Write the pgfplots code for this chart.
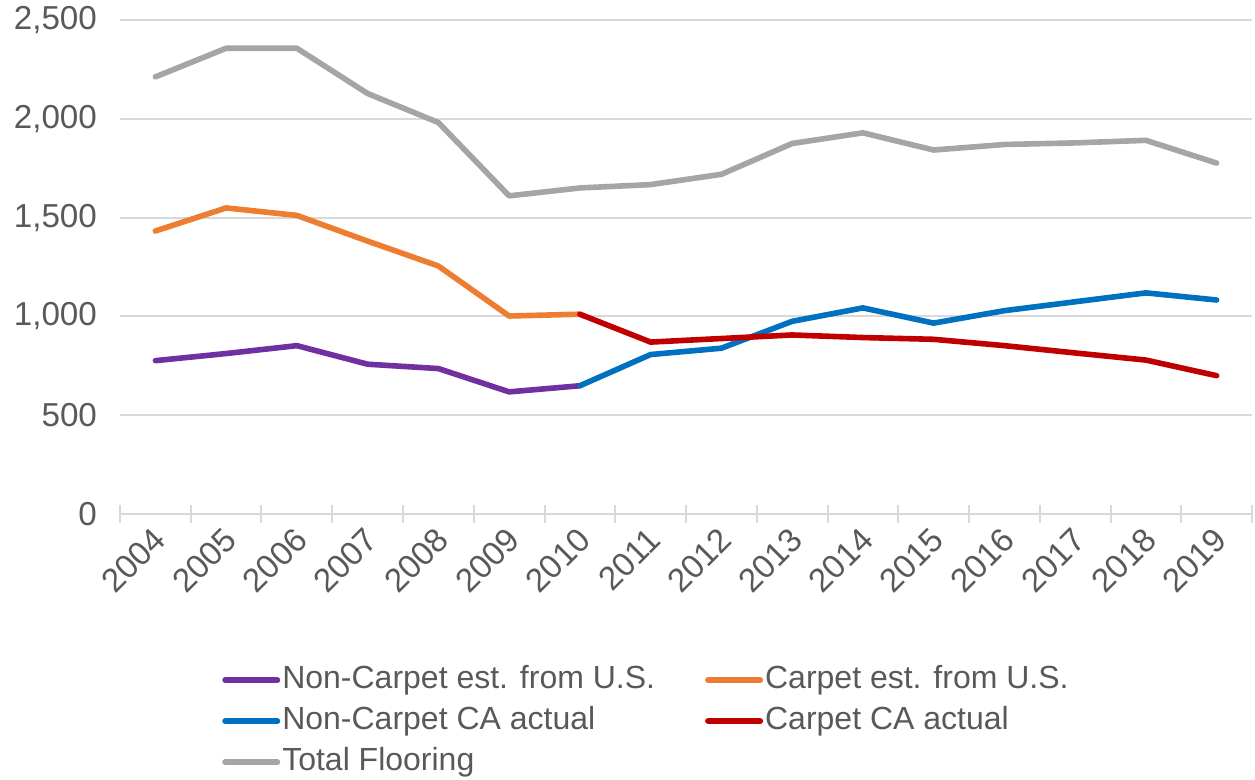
\documentclass[border=0pt]{standalone}
\usepackage{pgfplots}
\pgfplotsset{compat=1.18}
\usepackage{fontspec}
\setmainfont{Liberation Sans}
\definecolor{txtgray}{HTML}{595959}
\definecolor{gridgray}{HTML}{D9D9D9}
\definecolor{cpurple}{HTML}{7030A0}
\definecolor{corange}{HTML}{ED7D31}
\definecolor{cblue}{HTML}{0070C0}
\definecolor{cred}{HTML}{C00000}
\definecolor{cgray}{HTML}{A5A5A5}
\begin{document}
\begin{tikzpicture}
\useasboundingbox (-60pt,-133pt) rectangle (567.5pt,257pt);
\begin{axis}[
  at={(0,0)}, anchor=south west,
  scale only axis, width=566pt, height=247pt,
  xmin=-0.5, xmax=15.5, ymin=0, ymax=2500,
  xtick={0,...,15},
  xticklabels={2004,2005,2006,2007,2008,2009,2010,2011,2012,2013,2014,2015,2016,2017,2018,2019},
  minor xtick={-0.5,0.5,...,15.5},
  ytick={0,500,1000,1500,2000,2500},
  yticklabels={0,500,{1,000},{1,500},{2,000},{2,500}},
  major x tick style={draw=none},
  minor x tick style={draw=gridgray, line width=1pt},
  minor tick length=9pt,
  xtick align=center,
  ytick style={draw=none},
  ymajorgrids, grid style={draw=gridgray, line width=1pt},
  axis x line*=bottom, axis y line*=left,
  x axis line style={draw=gridgray, line width=1pt, -},
  y axis line style={draw=none},
  tick label style={font=\fontsize{16.6}{19}\selectfont, color=txtgray},
  xticklabel style={rotate=45, anchor=east, xshift=-0.5pt, yshift=-7pt},
  yticklabel style={xshift=-8pt},
  clip=false,
  legend columns=2,
  legend style={at={(0.09,-0.30)}, anchor=north west, draw=none, fill=none,
    inner sep=0pt, font=\fontsize{16}{19}\selectfont, text=txtgray,
    row sep=3pt,
    nodes={inner sep=1pt, text height=12pt, text depth=3.5pt},
    /tikz/column 2/.style={column sep=24pt}},
  legend cell align=left,
  legend image code/.code={\draw[#1, line width=3pt] (0pt,0pt) -- (26pt,0pt);},
  every axis plot/.append style={line width=2.8pt, line join=round, line cap=round},
]
\addplot[cpurple] coordinates {(0,776) (1,812) (2,852) (3,758) (4,736) (5,618) (6,649)};
\addlegendentry{Non-Carpet est. from U.S.}
\addplot[corange] coordinates {(0,1432) (1,1549) (2,1511) (3,1381) (4,1255) (5,1002) (6,1011)};
\addlegendentry{Carpet est. from U.S.}
\addplot[cblue] coordinates {(6,649) (7,807) (8,839) (9,975) (10,1043) (11,966) (12,1029) (13,1074) (14,1119) (15,1083)};
\addlegendentry{Non-Carpet CA actual}
\addplot[cred] coordinates {(6,1011) (7,870) (8,888) (9,906) (10,893) (11,884) (12,852) (13,815) (14,779) (15,700)};
\addlegendentry{Carpet CA actual}
\addplot[cgray] coordinates {(0,2212) (1,2357) (2,2357) (3,2128) (4,1981) (5,1610) (6,1650) (7,1667) (8,1719) (9,1875) (10,1929) (11,1842) (12,1870) (13,1878) (14,1891) (15,1776)};
\addlegendentry{Total Flooring}
\end{axis}
\end{tikzpicture}
\end{document}
